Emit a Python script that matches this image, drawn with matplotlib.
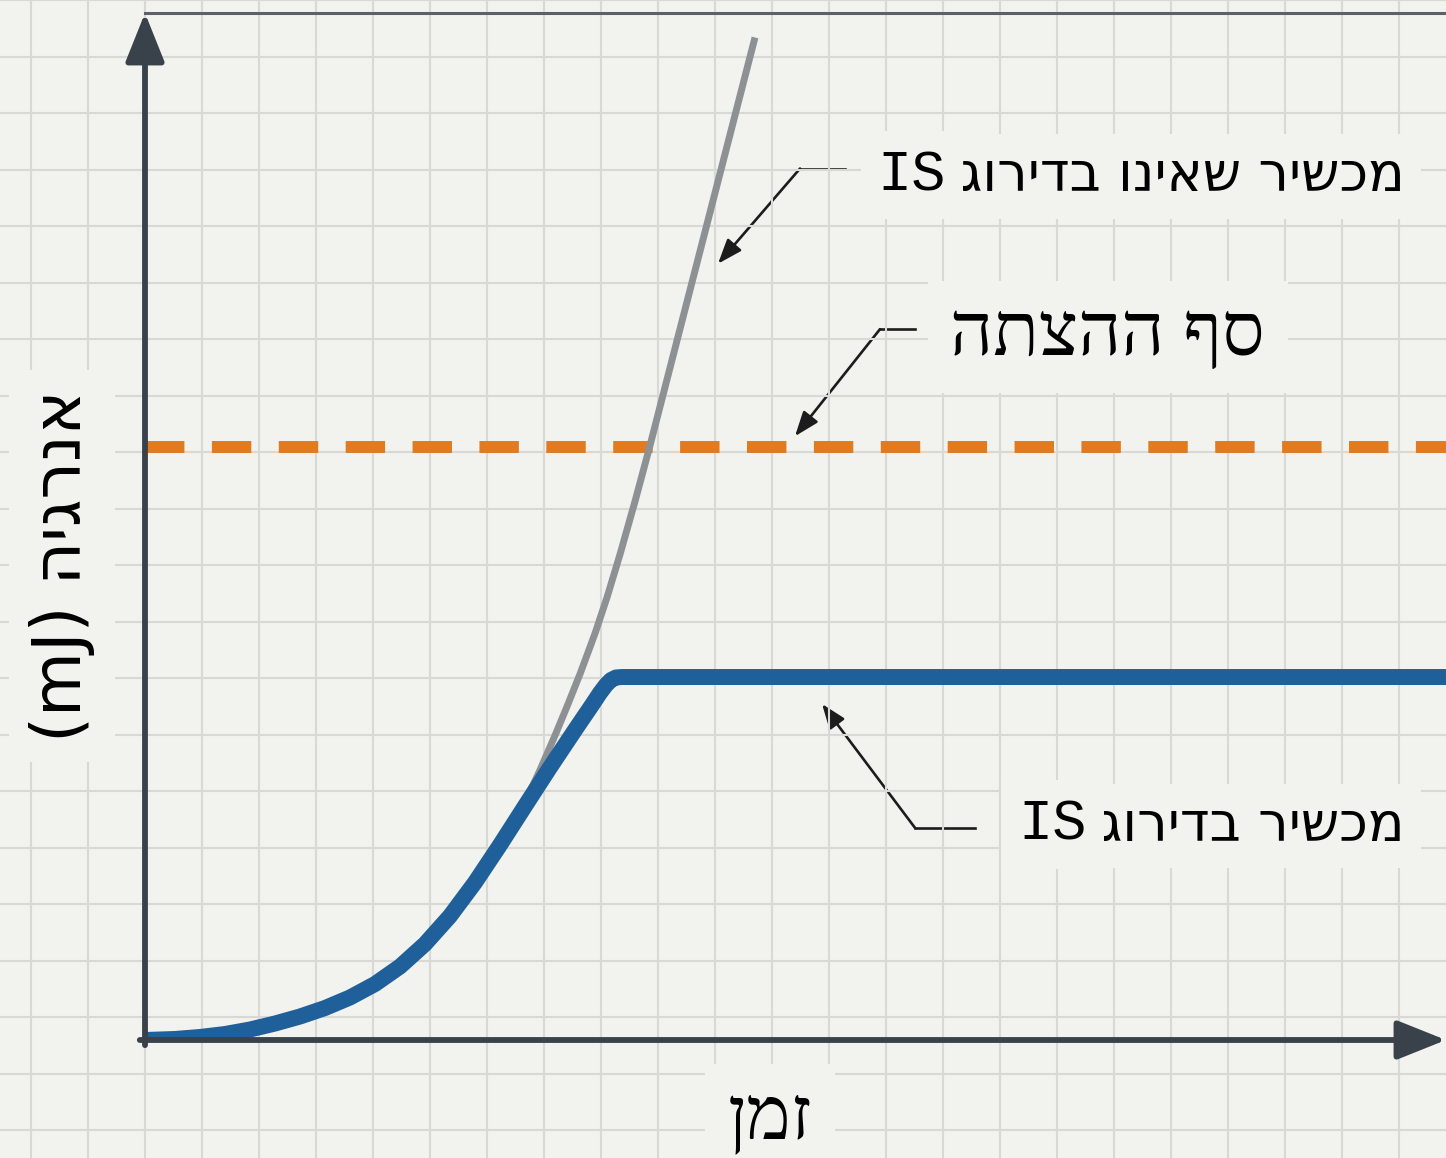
import numpy as np
import matplotlib
matplotlib.use("Agg")
import matplotlib.pyplot as plt

# energy curves, one unit = one grid cell (time, energy)
t_rated = [0, 0.526, 0.965, 1.404, 1.842, 2.281, 2.719, 3.158, 3.596, 4.035, 4.474,
           4.912, 5.351, 5.789, 6.228, 6.667, 7.105, 7.544, 7.842, 7.982, 8.088, 8.175,
           8.263, 8.368, 22.825]
e_rated = [0, 0.018, 0.053, 0.105, 0.184, 0.289, 0.412, 0.561, 0.746, 0.982, 1.289,
           1.684, 2.175, 2.763, 3.421, 4.105, 4.781, 5.439, 5.877, 6.088, 6.228, 6.316,
           6.360, 6.368, 6.368]

t_unrated = [0, 0.526, 0.965, 1.404, 1.842, 2.281, 2.719, 3.158, 3.596, 4.035, 4.474,
             4.912, 5.351, 5.789, 6.228, 6.491, 6.702, 6.930, 7.193, 7.404, 7.632,
             7.895, 8.105, 8.333, 8.596, 8.860, 9.316, 9.772, 10.228, 10.702]
e_unrated = [0, 0.018, 0.053, 0.105, 0.184, 0.289, 0.412, 0.561, 0.746, 0.982, 1.289,
             1.684, 2.175, 2.763, 3.421, 3.842, 4.246, 4.737, 5.342, 5.851, 6.421,
             7.132, 7.763, 8.518, 9.447, 10.430, 12.202, 13.974, 15.746, 17.588]

ignition_energy = 10.40

label_unrated = "מכשיר שאינו בדירוג"
label_rated = "מכשיר בדירוג"
rating = "IS"
label_threshold = "סף ההצתה"
x_label = "זמן"
y_label = "אנרגיה (mJ)"

BG = "#f2f3ee"
GRID = "#d8d9d4"
AXIS = "#39424a"
BLUE = "#1f5f9a"
GRAY = "#8e9193"
ORANGE = "#e07b22"
INK = "#1c1c1c"

W, H = 1446, 1158
CELL = 57


def rtl(text):
    # matplotlib has no bidi support: lay the words out right-to-left by hand
    words = text.split(" ")[::-1]
    out = []
    for w in words:
        if any("\u0590" <= ch <= "\u05ff" for ch in w):
            w = w[::-1]
        out.append(w)
    return " ".join(out)


fig = plt.figure(figsize=(W / 100, H / 100), dpi=100)

# background sheet with the square grid, in pixel units
bg = fig.add_axes([0, 0, 1, 1], zorder=0)
bg.set_facecolor(BG)
bg.set_xlim(0, W)
bg.set_ylim(H, 0)
bg.set_xticks(np.arange(145 - 2 * CELL, W, CELL))
bg.set_yticks(np.arange(47 - CELL, H, CELL))
bg.grid(True, color=GRID, lw=1.5)
bg.tick_params(length=0, labelbottom=False, labelleft=False)
for s in bg.spines.values():
    s.set_visible(False)

# plotting area
ax = fig.add_axes([145 / W, 118 / H, 1301 / W, 1027 / H], zorder=1)
ax.set_facecolor("none")
ax.set_xlim(0, 1301 / CELL)
ax.set_ylim(0, 1027 / CELL)
ax.set_xticks([])
ax.set_yticks([])
for side in ["left", "right", "bottom"]:
    ax.spines[side].set_visible(False)
ax.spines["top"].set_color("#5d6064")
ax.spines["top"].set_linewidth(2.2)

ax.axhline(ignition_energy, color=ORANGE, lw=8.6, dashes=(3.3, 2.3),
           dash_capstyle="butt", zorder=2)
ax.plot(t_unrated, e_unrated, color=GRAY, lw=5, solid_capstyle="butt",
        solid_joinstyle="round", zorder=3)
ax.plot(t_rated, e_rated, color=BLUE, lw=11.5, solid_capstyle="butt",
        solid_joinstyle="round", zorder=4)

# axes with arrow heads
axis_arrow = dict(arrowstyle="-|>,head_length=30,head_width=12", mutation_scale=1,
                  color=AXIS, lw=4.2, shrinkA=0, shrinkB=0)
ax.annotate("", xy=(0, 1.0), xycoords="axes fraction", xytext=(0, -0.005),
            arrowprops=axis_arrow, annotation_clip=False, zorder=5)
ax.annotate("", xy=(1.0, 0), xycoords="axes fraction", xytext=(-0.004, 0),
            arrowprops=axis_arrow, annotation_clip=False, zorder=5)

# callouts
box = dict(boxstyle="square,pad=0.3", fc=BG, ec="none")
heb = ["DejaVu Sans"]
heb_serif = ["Liberation Serif", "DejaVu Sans"]
mono = ["Liberation Mono"]
head = dict(arrowstyle="-|>,head_length=0.75,head_width=0.28", mutation_scale=20,
            color=INK, lw=1.9, shrinkA=0, shrinkB=0)


def leader(elbow, tip):
    ex, ey = zip(*elbow)
    bg.plot(ex, ey, color=INK, lw=1.9, zorder=1)
    bg.annotate("", xy=tip, xytext=elbow[-1], arrowprops=head, zorder=1)


def rated_label(text, right, y):
    t = bg.text(right, y, rtl(text), fontsize=39, family=heb,
                ha="right", va="center", bbox=box, zorder=2)
    bg.annotate(rating, xy=(0, 0.5), xycoords=t, xytext=(-10, 1),
                textcoords="offset points", fontsize=41, family=mono,
                ha="right", va="center", bbox=box, zorder=2)


rated_label(label_unrated, 1405, 168)
leader([(845, 160), (800, 160)], (718, 256))

bg.text(1265, 330, rtl(label_threshold), fontsize=54, family=heb_serif,
        ha="right", va="center", bbox=box, zorder=2)
leader([(915, 322), (880, 322)], (795, 430))

rated_label(label_rated, 1405, 823)
leader([(975, 825), (915, 825)], (822, 700))

bg.text(770, 1120, rtl(x_label), fontsize=54, family=heb_serif,
        ha="center", va="center", bbox=box)
bg.text(62, 561, rtl(y_label), fontsize=48, family=heb, rotation=90,
        ha="center", va="center", bbox=box)

fig.savefig("out.png", dpi=100, facecolor=BG)
